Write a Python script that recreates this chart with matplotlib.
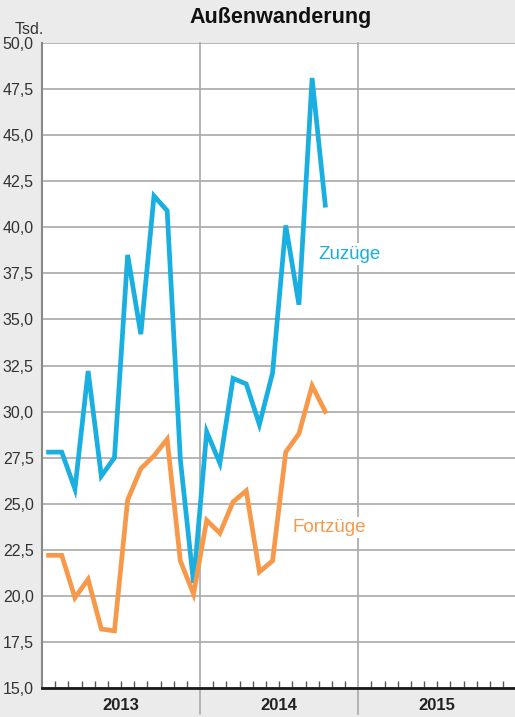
import matplotlib
matplotlib.use("Agg")
import matplotlib.pyplot as plt
import numpy as np

plt.rcParams['font.family'] = ['Liberation Sans', 'DejaVu Sans']

# Data (Tsd., monthly, Jan 2013 .. Oct 2014)
zuzuege = [27.8, 27.8, 25.8, 32.2, 26.5, 27.5, 38.5, 34.2, 41.7, 40.9, 27.4, 20.7,
           28.9, 27.2, 31.8, 31.5, 29.3, 32.1, 40.1, 35.8, 48.1, 41.2]
fortzuege = [22.2, 22.2, 19.9, 20.9, 18.2, 18.1, 25.2, 26.9, 27.6, 28.5, 21.9, 20.1,
             24.1, 23.4, 25.1, 25.7, 21.3, 21.9, 27.8, 28.8, 31.4, 30.0]
years = ["2013", "2014", "2015"]
yticks = [15.0, 17.5, 20.0, 22.5, 25.0, 27.5, 30.0, 32.5, 35.0, 37.5, 40.0, 42.5, 45.0, 47.5, 50.0]

BLUE = "#19afe0"
ORANGE = "#f7994a"
BG = "#ebebec"
GRID = "#a9a9a9"

fig = plt.figure(figsize=(5.15, 7.17), dpi=100, facecolor=BG)
ax = fig.add_axes([42/515, 29/717, 1 - 42/515, (688-43)/717])
ax.set_facecolor("white")

x = np.arange(len(zuzuege)) + 0.5
ax.set_xlim(0, 35.9)
ax.set_ylim(15, 50)

ax.set_yticks(yticks)
ax.set_yticklabels([f"{v:.1f}".replace(".", ",") for v in yticks], fontsize=11.5, color="#333333")
ax.tick_params(axis='y', length=0, pad=6)
ax.yaxis.grid(True, color=GRID, linewidth=1.2)
ax.set_axisbelow(True)

# month ticks
minor = [m for m in range(1, 36) if m % 12 != 0]
ax.set_xticks(minor)
ax.set_xticklabels([])
ax.tick_params(axis='x', direction='in', length=5, width=1, color="#555555")

# year dividers extending below axis
for b in [12, 24]:
    ax.plot([b, b], [-0.04, 1], transform=ax.get_xaxis_transform(), color=GRID,
            linewidth=1.2, clip_on=False, zorder=1)
for i, yr in enumerate(years):
    ax.text(i*12 + 6, -0.027, yr, transform=ax.get_xaxis_transform(), ha='center', va='center',
            fontsize=12, fontweight='bold', color="#222222")

for s in ['top', 'right']:
    ax.spines[s].set_visible(False)
ax.spines['left'].set_color("#888888")
ax.spines['left'].set_linewidth(1.5)
ax.spines['bottom'].set_color("#1a1a1a")
ax.spines['bottom'].set_linewidth(2)

ax.plot(x, zuzuege, color=BLUE, linewidth=3.4, solid_joinstyle='miter', zorder=3, clip_on=False)
ax.plot(x, fortzuege, color=ORANGE, linewidth=3.4, solid_joinstyle='miter', zorder=3, clip_on=False)

ax.text(20.95, 38.55, "Zuzüge", color=BLUE, fontsize=13.5, va='center', ha='left',
        bbox=dict(facecolor='white', edgecolor='none', pad=1.5), zorder=4)
ax.text(19.05, 23.7, "Fortzüge", color=ORANGE, fontsize=13.5, va='center', ha='left',
        bbox=dict(facecolor='white', edgecolor='none', pad=1.5), zorder=4)

fig.text(281/515, 1 - 18/717, "Außenwanderung", ha='center', va='center', fontsize=15.5,
         fontweight='bold', color="#111111")
fig.text(29/515, 1 - 29/717, "Tsd.", ha='center', va='center', fontsize=11.5, color="#333333")

fig.savefig("out.png", dpi=100, facecolor=BG)
